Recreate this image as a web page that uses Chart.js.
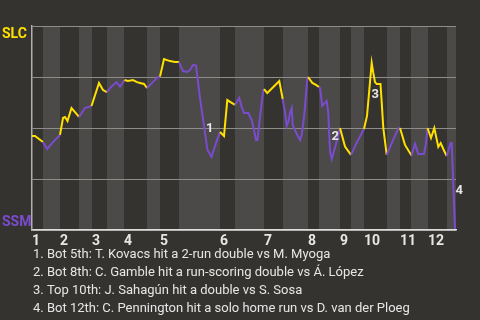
<!DOCTYPE html>
<html>
<head>
<meta charset="utf-8">
<script src="https://cdn.jsdelivr.net/npm/chart.js@4.4.1/dist/chart.umd.min.js"></script>
<style>
    html, body { margin: 0; padding: 0; background: #353330; }
    canvas { display: block; }
</style>
</head>
<body>
<canvas id="wpChart" width="480" height="320"></canvas>
<script>
// ========================================
// DATA
// ========================================

// game progress (plays) where each half inning starts, last value = end of game
const halfStarts = [0, 11, 28, 47, 60, 75, 92, 115, 128, 147, 188, 203, 232, 251, 276, 287, 308, 319, 332, 355, 368, 379, 396, 415, 424];
const inningLabels = ['1', '2', '3', '4', '5', '6', '7', '8', '9', '10', '11', '12'];

// SLC win probability (%) after each play
const playX = [
    0, 3, 7, 11, 15, 21, 28, 31, 33, 35.5, 39.5, 44.5, 47, 53, 59.5, 67, 71, 75, 79, 84.5,
    88, 92.5, 96, 101, 105, 108, 112, 115, 120, 126, 128, 132, 138, 143, 147, 151, 155, 158, 161, 164,
    168, 175.5, 179.5, 184.5, 188, 192, 195.3, 199.7, 203, 207.3, 209.7, 212, 216.3, 219.7, 222, 224, 225.5, 228, 231.3, 232,
    235.3, 241.3, 247.3, 250.7, 253, 254.7, 256.3, 258, 259.7, 260.7, 263, 266.3, 268, 269.7, 271.3, 273, 275.3, 276, 280.3, 284,
    287, 288, 290.3, 292, 294.7, 296.3, 298, 299.7, 303.7, 308, 313, 319, 325, 332, 335, 339.7, 341.3, 343, 344.7, 348.5,
    349.7, 351.3, 354.7, 361, 366.3, 368, 373, 379.5, 383, 386.3, 392, 394, 395.5, 399, 402.3, 406.3, 408.7, 411.3, 414.7, 418.7,
    419.7, 423
];
const slcWinPct = [
    46.1, 46.1, 44.6, 43.1, 39.7, 43.1, 46.6, 54.9, 55.4, 53.4, 59.8, 56.9, 55.4, 59.8, 60.8, 72.1, 68.6, 67.6, 70.1, 72.5,
    70.3, 73.5, 73.0, 73.5, 72.5, 72.1, 71.6, 69.6, 72.1, 75.0, 75.2, 83.8, 82.8, 82.4, 82.4, 77.9, 77.5, 78.4, 80.9, 80.6,
    64.7, 39.2, 35.9, 43.3, 48.0, 46.1, 63.7, 62.3, 61.3, 64.7, 60.3, 57.4, 57.4, 53.9, 49.0, 44.1, 44.1, 55.4, 68.6, 69.1,
    67.2, 70.1, 73.0, 64.2, 57.8, 51.0, 52.9, 57.4, 59.8, 51.5, 49.0, 45.6, 44.1, 46.6, 52.5, 60.3, 74.5, 75.0, 72.1, 71.1,
    70.1, 69.6, 60.8, 61.8, 63.2, 57.4, 38.7, 34.8, 41.7, 50.0, 40.9, 36.8, 43.1, 49.5, 55.9, 81.9, 77.0, 72.5, 71.6, 71.6,
    62.7, 50.0, 36.8, 44.1, 49.8, 50.0, 41.7, 36.5, 42.2, 37.3, 37.3, 42.6, 50.0, 45.1, 50.0, 40.7, 42.6, 39.7, 36.3, 42.6,
    42.6, 0.5
];

// key plays (play where it ends) and their notes
const keyPlays = [175.5, 298, 339.7, 423];
const keyNotes = [
    '1. Bot 5th: T. Kovacs hit a 2-run double vs M. Myoga',
    '2. Bot 8th: C. Gamble hit a run-scoring double vs \u00c1. L\u00f3pez',
    '3. Top 10th: J. Sahag\u00fan hit a double vs S. Sosa',
    '4. Bot 12th: C. Pennington hit a solo home run vs D. van der Ploeg'
];

const teamTop = 'SLC';
const teamBottom = 'SSM';

// ========================================
// STYLE
// ========================================

const FONT = 'Roboto, "Open Sans", sans-serif';
const BG = '#353330';
const BAND_LIGHT = '#4b4a48';
const YELLOW = '#ffe000';
const PURPLE = '#7b4bcf';
const TEXT = '#e6e6e6';

// Helper Functions
function halfIndexAt(x) {
    for (let i = 0; i < halfStarts.length - 1; i++) {
        if (x >= halfStarts[i] && x < halfStarts[i + 1]) return i;
    }
    return halfStarts.length - 2;
}

function segmentColor(ctx) {
    const mid = (ctx.p0.parsed.x + ctx.p1.parsed.x) / 2;
    return halfIndexAt(mid) % 2 === 0 ? YELLOW : PURPLE;
}

// background + inning bands
const bandsPlugin = {
    id: 'bands',
    beforeDraw(chart) {
        const { ctx, chartArea, scales } = chart;
        ctx.save();
        ctx.fillStyle = BG;
        ctx.fillRect(0, 0, chart.width, chart.height);
        ctx.fillStyle = BAND_LIGHT;
        for (let i = 1; i < halfStarts.length - 1; i += 2) {
            const x0 = scales.x.getPixelForValue(halfStarts[i]);
            const x1 = scales.x.getPixelForValue(halfStarts[i + 1]);
            ctx.fillRect(x0, chartArea.top, x1 - x0, chartArea.bottom - chartArea.top);
        }
        ctx.restore();
    }
};

// team names, key play markers and notes
const labelsPlugin = {
    id: 'labels',
    afterDraw(chart) {
        const { ctx, chartArea } = chart;
        const meta = chart.getDatasetMeta(0);
        ctx.save();

        ctx.font = 'bold 14px ' + FONT;
        ctx.textAlign = 'left';
        ctx.textBaseline = 'top';
        ctx.fillStyle = YELLOW;
        ctx.fillText(teamTop, 2, chartArea.top + 1);
        ctx.textBaseline = 'bottom';
        ctx.fillStyle = PURPLE;
        ctx.fillText(teamBottom, 2, chartArea.bottom - 1);

        ctx.font = 'bold 13px ' + FONT;
        ctx.textAlign = 'center';
        ctx.textBaseline = 'middle';
        ctx.fillStyle = TEXT;
        keyPlays.forEach((play, n) => {
            const i = playX.indexOf(play);
            const p0 = meta.data[i - 1];
            const p1 = meta.data[i];
            ctx.fillText(String(n + 1), (p0.x + p1.x) / 2 + 6, (p0.y + p1.y) / 2 + 5);
        });

        ctx.font = '13px ' + FONT;
        ctx.textAlign = 'left';
        keyNotes.forEach((note, n) => {
            ctx.fillText(note, 33, 255 + n * 18);
        });
        ctx.restore();
    }
};

// ========================================
// CHART
// ========================================

new Chart(document.getElementById('wpChart'), {
    type: 'line',
    data: {
        datasets: [{
            data: playX.map((x, i) => ({ x: x, y: slcWinPct[i] })),
            borderWidth: 2,
            pointRadius: 0,
            tension: 0,
            borderColor: YELLOW,
            segment: { borderColor: segmentColor }
        }]
    },
    options: {
        responsive: false,
        animation: false,
        layout: { padding: { top: 26, right: 24, left: 0, bottom: 0 } },
        plugins: {
            legend: { display: false },
            tooltip: { enabled: false }
        },
        scales: {
            x: {
                type: 'linear',
                min: halfStarts[0],
                max: halfStarts[halfStarts.length - 1],
                afterBuildTicks(scale) {
                    scale.ticks = halfStarts.filter((v, i) => i % 2 === 0 && i < halfStarts.length - 1)
                        .map(v => ({ value: v }));
                },
                afterFit(scale) { scale.height = 90; },
                grid: { display: false },
                border: { display: true, color: '#dddddd', width: 1.5 },
                ticks: {
                    autoSkip: false,
                    maxRotation: 0,
                    align: 'start',
                    padding: -5,
                    color: TEXT,
                    font: { family: FONT, size: 14, weight: 'bold' },
                    callback: (v, i) => inningLabels[i]
                }
            },
            y: {
                min: 0,
                max: 100,
                afterFit(scale) { scale.width = 32; },
                grid: { color: '#8e8d8a', lineWidth: 1, drawTicks: false },
                border: { display: true, color: '#b0b0b0', width: 1.5 },
                ticks: { stepSize: 25, display: false }
            }
        }
    },
    plugins: [bandsPlugin, labelsPlugin]
});
</script>
</body>
</html>
